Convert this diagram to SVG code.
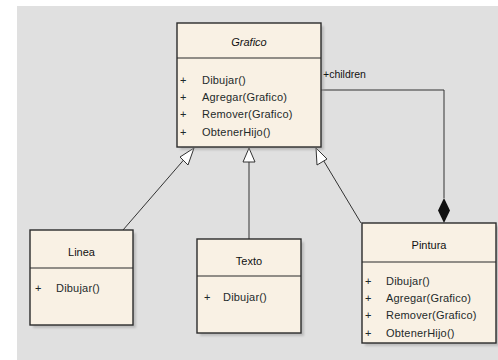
<svg xmlns="http://www.w3.org/2000/svg" width="498" height="360" viewBox="0 0 498 360">
  <style>
    .box { fill: #f9f1e4; stroke: #2b2b2b; stroke-width: 1.4; }
    .div { stroke: #2b2b2b; stroke-width: 1.2; }
    .shadow { fill: #9a9a9a; opacity: 0.5; }
    .title { font-family: "Liberation Sans", Arial, sans-serif; font-size: 11px; fill: #111; text-anchor: middle; }
    .item { font-family: "Liberation Sans", Arial, sans-serif; font-size: 11px; fill: #1e2a2a; letter-spacing: 0.2px; }
    .edge { fill: none; stroke: #333; stroke-width: 1; }
    .head { fill: #fff; stroke: #333; stroke-width: 1; }
    .label { font-family: "Liberation Sans", Arial, sans-serif; font-size: 10.5px; fill: #111; }
  </style>
  <defs>
    <filter id="soft" x="-10%" y="-10%" width="130%" height="130%">
      <feGaussianBlur stdDeviation="1.2"/>
    </filter>
  </defs>

  <!-- canvas -->
  <rect x="0" y="0" width="498" height="360" fill="#fff"/>
  <rect x="17" y="6" width="481" height="354" fill="#e0e0e0"/>

  <!-- connectors -->
  <g id="connectors">
    <line class="edge" x1="123" y1="230" x2="194" y2="148"/>
    <line class="edge" x1="249" y1="239" x2="249" y2="148"/>
    <line class="edge" x1="361" y1="223" x2="316" y2="148"/>
    <!-- hollow generalization heads -->
    <path class="head" d="M194,148 L180,157 L188,165 Z"/>
    <path class="head" d="M249,148 L243,162 L255,162 Z"/>
    <path class="head" d="M316,148 L317,165 L327,159 Z"/>
    <!-- composition -->
    <path class="edge" d="M321,90 H444 V198"/>
    <path d="M444,198 L450,210.5 L444,223 L438,210.5 Z" fill="#111"/>
    <text class="label" x="323" y="78">+children</text>
  </g>

  <!-- Grafico -->
  <g id="grafico">
    <rect class="shadow" x="180" y="26" width="144" height="124" filter="url(#soft)"/>
    <rect class="box" x="177" y="23" width="144" height="124"/>
    <line class="div" x1="177" y1="58" x2="321" y2="58"/>
    <text class="title" x="249" y="46" font-style="italic">Grafico</text>
    <text class="item" x="180" y="84">+</text><text class="item" x="202" y="84">Dibujar()</text>
    <text class="item" x="180" y="101">+</text><text class="item" x="202" y="101">Agregar(Grafico)</text>
    <text class="item" x="180" y="118">+</text><text class="item" x="202" y="118">Remover(Grafico)</text>
    <text class="item" x="180" y="136">+</text><text class="item" x="202" y="136">ObtenerHijo()</text>
  </g>

  <!-- Linea -->
  <g id="linea">
    <rect class="shadow" x="33" y="233" width="103" height="95" filter="url(#soft)"/>
    <rect class="box" x="30" y="230" width="103" height="95"/>
    <line class="div" x1="30" y1="268" x2="133" y2="268"/>
    <text class="title" x="81.5" y="256">Linea</text>
    <text class="item" x="35" y="292">+</text><text class="item" x="56" y="292">Dibujar()</text>
  </g>

  <!-- Texto -->
  <g id="texto">
    <rect class="shadow" x="200" y="242" width="104" height="94" filter="url(#soft)"/>
    <rect class="box" x="197" y="239" width="104" height="94"/>
    <line class="div" x1="197" y1="276" x2="301" y2="276"/>
    <text class="title" x="249" y="265">Texto</text>
    <text class="item" x="204" y="301">+</text><text class="item" x="223" y="301">Dibujar()</text>
  </g>

  <!-- Pintura -->
  <g id="pintura">
    <rect class="shadow" x="365" y="226" width="134" height="120" filter="url(#soft)"/>
    <rect class="box" x="362" y="223" width="134" height="120"/>
    <line class="div" x1="362" y1="262" x2="496" y2="262"/>
    <text class="title" x="429" y="249">Pintura</text>
    <text class="item" x="365" y="285">+</text><text class="item" x="386" y="285">Dibujar()</text>
    <text class="item" x="365" y="302">+</text><text class="item" x="386" y="302">Agregar(Grafico)</text>
    <text class="item" x="365" y="319">+</text><text class="item" x="386" y="319">Remover(Grafico)</text>
    <text class="item" x="365" y="337">+</text><text class="item" x="386" y="337">ObtenerHijo()</text>
  </g>
</svg>
